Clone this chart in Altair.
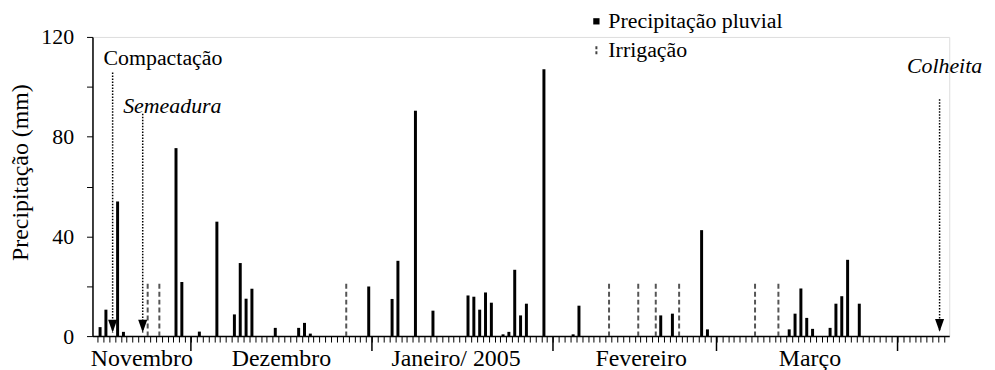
import altair as alt
import pandas as pd

# ---- data (day index 0 = first day shown, mid-November 2004) ----
P_DAYS = [0, 1, 3, 4, 13, 14, 17, 20, 23, 24, 25, 26, 30, 34, 35, 36, 46, 50, 51, 54,
          57, 63, 64, 65, 66, 67, 69, 70, 71, 72, 73, 76, 81, 82, 96, 98, 103, 104,
          118, 119, 120, 121, 122, 125, 126, 127, 128, 130]
P_MM = [3.6, 10.6, 54, 1.7, 75.4, 21.7, 1.8, 45.9, 8.7, 29.3, 15, 19, 3.3, 3.3, 5.3, 1,
        19.9, 14.9, 30.2, 90.4, 10.2, 16.3, 15.8, 10.6, 17.5, 13.4, 0.7, 1.7, 26.6, 8.3,
        13, 107, 0.7, 12.2, 8.3, 9, 42.5, 2.7, 2.7, 9, 19.1, 7.3, 2.9, 3.3, 13, 16,
        30.6, 13]
I_DAYS = [8, 10, 42, 87, 92, 95, 99, 112, 116]
I_MM = [21, 21, 21, 21, 21, 21, 21, 21, 21]

BOUNDARIES = [16, 47, 78, 106, 137]
MONTHS = ["Novembro", "Dezembro", "Janeiro/ 2005", "Fevereiro", "Março"]
MONTH_POS = [7.6, 31.5, 61.4, 93.1, 122.0]

EVENTS = ["Compactação", "Semeadura", "Colheita"]
EVENT_DAY = [2.6, 7.75, 144.2]
EVENT_TOP = [105.7, 89.2, 95.0]
EVENT_TIP = [1.4, 1.4, 1.7]
EVENT_TX = [1.03, 4.4, 138.6]
EVENT_TY = [111.6, 92.4, 108.3]
EVENT_ITALIC = [False, True, True]

LEGEND = ["Precipitação pluvial", "Irrigação"]

FONT = "Liberation Serif"
W, H = 862, 301
XMAX = 145

precip = pd.DataFrame({"day": P_DAYS, "mm": P_MM})
irrig = pd.DataFrame({"day": I_DAYS, "mm": I_MM})
bounds = pd.DataFrame({"day": BOUNDARIES})
months = pd.DataFrame({"name": MONTHS, "pos": MONTH_POS})
events = pd.DataFrame({"name": EVENTS, "pos": EVENT_DAY, "top": EVENT_TOP,
                       "tip": EVENT_TIP, "tx": EVENT_TX, "ty": EVENT_TY,
                       "italic": EVENT_ITALIC})

xs = alt.Scale(domain=[0, XMAX], nice=False, zero=False)
ys = alt.Scale(domain=[0, 120], nice=False)

x_axis = alt.Axis(values=list(range(0, XMAX + 1)), labels=False, tickSize=6,
                  tickColor="black", tickWidth=1, domainColor="black",
                  domainWidth=1.5, grid=False, title=None)
y_axis = alt.Axis(values=[0, 20, 40, 60, 80, 100, 120],
                  labelExpr="datum.value % 40 == 0 ? datum.label : ''",
                  tickSize=6, tickColor="black", tickWidth=1,
                  domainColor="black", domainWidth=1.5, grid=False,
                  labelFont=FONT, labelFontSize=22, labelColor="black",
                  labelPadding=13,
                  title="Precipitação (mm)", titleFont=FONT, titleFontSize=24,
                  titleFontWeight="normal", titleColor="black",
                  titleAngle=270, titleX=-72, titleY=136,
                  titleAlign="center", titleBaseline="middle")


def X(field):
    return alt.X(field, type="quantitative", scale=xs, axis=x_axis)


def Y(field):
    return alt.Y(field, type="quantitative", scale=ys, axis=y_axis)


bars = alt.Chart(precip).transform_calculate(pos="datum.day + 0.45").mark_bar(
    size=3, color="black").encode(x=X("pos"), y=Y("mm"))

irr = alt.Chart(irrig).transform_calculate(pos="datum.day + 0.6").mark_rule(
    color="#555555", strokeWidth=2, strokeDash=[5, 3]).encode(
    x=X("pos"), y=Y("mm"), y2=alt.datum(0))

month_ticks = alt.Chart(bounds).mark_rule(color="black", strokeWidth=1.5).encode(
    x=X("day"), y=alt.value(H), y2=alt.value(H + 15))

month_labels = alt.Chart(months).mark_text(
    font=FONT, fontSize=24, color="black", baseline="middle", align="center").encode(
    x=X("pos"), y=alt.value(H + 23), text="name:N")

arrow_lines = alt.Chart(events).mark_rule(
    color="black", strokeWidth=1.5, strokeDash=[1.5, 1.5]).encode(
    x=X("pos"), y=Y("top"), y2="tip:Q")

arrow_heads = alt.Chart(events).mark_point(
    shape="M-0.7,-2L0.7,-2L0,0Z", size=169, filled=True, opacity=1,
    color="black", strokeWidth=0).encode(x=X("pos"), y=Y("tip"))

ev_normal = alt.Chart(events).transform_filter("!datum.italic").mark_text(
    font=FONT, fontSize=22, color="black", align="left", baseline="middle").encode(
    x=X("tx"), y=Y("ty"), text="name:N")
ev_italic = alt.Chart(events).transform_filter("datum.italic").mark_text(
    font=FONT, fontSize=22, fontStyle="italic", color="black", align="left",
    baseline="middle").encode(x=X("tx"), y=Y("ty"), text="name:N")

# manual legend
leg_df = pd.DataFrame({"name": LEGEND, "row": [0, 1]})
leg_sq = alt.Chart(leg_df).transform_filter("datum.row == 0").mark_square(
    size=40, color="black", filled=True, opacity=1).encode(
    x=alt.value(507), y=alt.value(-15.7))
leg_irr = alt.Chart(leg_df).transform_filter("datum.row == 1").mark_rule(
    color="#444444", strokeWidth=2, strokeDash=[3, 2]).encode(
    x=alt.value(507), y=alt.value(9.5), y2=alt.value(17.5))
leg_txt = alt.Chart(leg_df).transform_calculate(yy="datum.row * 29 - 15.7").mark_text(
    font=FONT, fontSize=22, color="black", align="left", baseline="middle").encode(
    x=alt.value(519), y=alt.Y("yy:Q", scale=None), text="name:N")

chart = alt.layer(
    bars, irr, month_ticks, month_labels, arrow_lines, arrow_heads,
    ev_normal, ev_italic, leg_sq, leg_irr, leg_txt
).properties(
    width=W, height=H,
    autosize=alt.AutoSizeParams(type="none"),
    padding={"left": 85, "top": 28, "right": 38, "bottom": 33},
).configure_view(stroke=None).configure(background="white", font=FONT)

chart.save("out.html", embed_options={"renderer": "svg", "actions": False})
